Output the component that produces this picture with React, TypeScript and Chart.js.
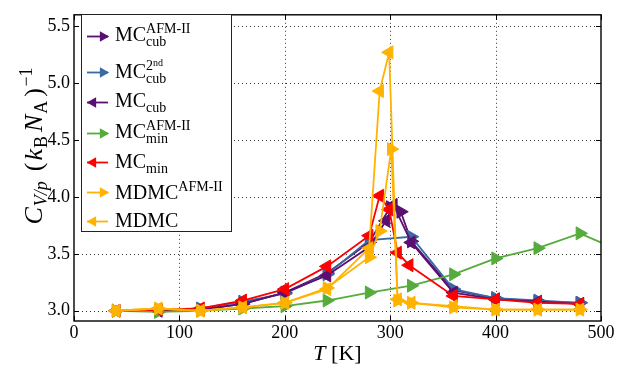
import { useEffect, useRef } from 'react';
import { Chart, registerables } from 'chart.js';

Chart.register(...registerables);

// ---------- data ----------
const T_CUB_AFM = [40, 80, 120, 160, 200, 240, 280, 300, 310, 320, 360, 400, 440, 480];
const C_CUB_AFM = [3.0, 3.0, 3.01, 3.06, 3.16, 3.33, 3.6, 3.91, 3.87, 3.61, 3.18, 3.11, 3.08, 3.07];

const T_CUB_2ND = [40, 80, 120, 160, 200, 240, 280, 320, 360, 400, 440, 480];
const C_CUB_2ND = [3.0, 3.0, 3.02, 3.08, 3.15, 3.32, 3.62, 3.65, 3.19, 3.11, 3.09, 3.07];

const T_CUB = [40, 80, 120, 160, 200, 240, 280, 296, 303, 320, 360, 400, 440, 480];
const C_CUB = [3.0, 3.0, 3.01, 3.06, 3.16, 3.31, 3.56, 3.79, 3.93, 3.6, 3.16, 3.1, 3.08, 3.06];

const T_MIN_AFM = [40, 80, 120, 160, 200, 240, 280, 320, 360, 400, 440, 480, 520];
const C_MIN_AFM = [3.0, 2.99, 3.0, 3.02, 3.04, 3.09, 3.16, 3.22, 3.32, 3.46, 3.55, 3.68, 3.52];

const T_MIN = [40, 80, 120, 160, 200, 240, 280, 290, 299, 307, 318, 360, 400, 440, 480];
const C_MIN = [3.0, 3.01, 3.02, 3.09, 3.19, 3.39, 3.66, 4.01, 3.89, 3.51, 3.4, 3.13, 3.1, 3.07, 3.06];

const T_MDMC_AFM = [40, 80, 120, 160, 200, 240, 280, 290, 301, 307, 320, 360, 400, 440, 480];
const C_MDMC_AFM = [3.0, 3.02, 3.0, 3.03, 3.07, 3.2, 3.47, 3.7, 4.42, 3.09, 3.07, 3.03, 3.01, 3.01, 3.01];

const T_MDMC = [40, 80, 120, 160, 200, 240, 280, 290, 299, 307, 320, 360, 400, 440, 480];
const C_MDMC = [3.0, 3.02, 3.0, 3.03, 3.07, 3.19, 3.55, 4.93, 5.27, 3.1, 3.07, 3.04, 3.01, 3.01, 3.01];

const X_TICKS = [0, 100, 200, 300, 400, 500];
const Y_TICKS = [3.0, 3.5, 4.0, 4.5, 5.0, 5.5];

// ---------- styling ----------
const SERIF = '"Liberation Serif", "DejaVu Serif", serif';
const PURPLE = '#5b0f72';
const BLUE = '#3a6aa3';
const GREEN = '#55ab3c';
const RED = '#ff0000';
const ORANGE = '#ffb300';

type Item = { t: string; size: number; dy?: number; it?: boolean; gap?: number; mode?: 'next' | 'chain' | 'stack' };
const M = 20;
const S = 14;
const SS = 10;

const SERIES: { T: number[]; C: number[]; color: string; dir: 1 | -1; label: Item[] }[] = [
  { T: T_CUB_AFM, C: C_CUB_AFM, color: PURPLE, dir: 1, label: [
    { t: 'MC', size: M }, { t: 'AFM-II', size: S, dy: -8 }, { t: 'cub', size: S, dy: 4.5, mode: 'stack' }] },
  { T: T_CUB_2ND, C: C_CUB_2ND, color: BLUE, dir: 1, label: [
    { t: 'MC', size: M }, { t: '2', size: S, dy: -8 }, { t: 'nd', size: SS, dy: -12, mode: 'chain' },
    { t: 'cub', size: S, dy: 4.5, mode: 'stack' }] },
  { T: T_CUB, C: C_CUB, color: PURPLE, dir: -1, label: [
    { t: 'MC', size: M }, { t: 'cub', size: S, dy: 4.5 }] },
  { T: T_MIN_AFM, C: C_MIN_AFM, color: GREEN, dir: 1, label: [
    { t: 'MC', size: M }, { t: 'AFM-II', size: S, dy: -8 }, { t: 'min', size: S, dy: 4.5, mode: 'stack' }] },
  { T: T_MIN, C: C_MIN, color: RED, dir: -1, label: [
    { t: 'MC', size: M }, { t: 'min', size: S, dy: 4.5 }] },
  { T: T_MDMC_AFM, C: C_MDMC_AFM, color: ORANGE, dir: 1, label: [
    { t: 'MDMC', size: M }, { t: 'AFM-II', size: S, dy: -8 }] },
  { T: T_MDMC, C: C_MDMC, color: ORANGE, dir: -1, label: [
    { t: 'MDMC', size: M }] },
];

const LEGEND_BOX = { x: 81, y: 14, w: 150, h: 217 };
const LEGEND_MARK_Y = [36, 72, 102, 133, 162, 192, 221];
const LEGEND_TEXT_Y = [41, 78, 107, 138, 168, 199, 227];

const YT = 26;
const YS = 18;
const YG = 4;
const Y_TITLE: Item[] = [
  { t: 'C', size: YT, it: true, gap: 1 }, { t: 'V/p', size: YS, dy: 5, it: true, gap: YG + 6 },
  { t: '(', size: YT, gap: 2 }, { t: 'k', size: YT, it: true, gap: 1 }, { t: 'B', size: YS, dy: 5, gap: YG },
  { t: 'N', size: YT, it: true, gap: 1 }, { t: 'A', size: YS, dy: 5, gap: YG }, { t: ')', size: YT, gap: 1.5 },
  { t: '−1', size: YS, dy: -10 },
];
const X_TITLE: Item[] = [{ t: 'T', size: 22, it: true }, { t: ' [K]', size: 22 }];

function font(i: Item) {
  return `${i.it ? 'italic ' : ''}${i.size}px ${SERIF}`;
}

function layoutRich(ctx: CanvasRenderingContext2D, items: Item[]) {
  let colStart = 0, prevEnd = 0, maxEnd = 0;
  const xs: number[] = [];
  for (const it of items) {
    ctx.font = font(it);
    const w = ctx.measureText(it.t).width + (it.gap || 0);
    let ix: number;
    if (it.mode === 'stack') ix = colStart;
    else if (it.mode === 'chain') ix = prevEnd;
    else { ix = maxEnd; colStart = ix; }
    xs.push(ix);
    prevEnd = ix + w;
    maxEnd = Math.max(maxEnd, prevEnd);
  }
  return { xs, width: maxEnd };
}

function drawRich(ctx: CanvasRenderingContext2D, items: Item[], x: number, y: number, align: 'left' | 'center') {
  const { xs, width } = layoutRich(ctx, items);
  const x0 = align === 'center' ? x - width / 2 : x;
  ctx.textAlign = 'left';
  ctx.textBaseline = 'alphabetic';
  items.forEach((it, k) => {
    ctx.font = font(it);
    ctx.fillText(it.t, x0 + xs[k], y + (it.dy || 0));
  });
}

function tri(ctx: CanvasRenderingContext2D, cx: number, cy: number, r: number, dir: number) {
  ctx.beginPath();
  ctx.moveTo(cx + dir * r, cy);
  ctx.lineTo(cx - dir * r / 2, cy - 0.866 * r);
  ctx.lineTo(cx - dir * r / 2, cy + 0.866 * r);
  ctx.closePath();
  ctx.fill();
}

const decor = {
  id: 'decor',
  beforeDatasetsDraw(chart: any) {
    const { ctx, chartArea: a, scales } = chart;
    const x = scales.x, y = scales.y;
    ctx.save();
    ctx.strokeStyle = 'rgba(0,0,0,0.8)';
    ctx.lineWidth = 1;
    ctx.setLineDash([1, 3]);
    for (const t of X_TICKS) {
      const px = Math.round(x.getPixelForValue(t)) + 0.5;
      if (px <= a.left + 1 || px >= a.right - 1) continue;
      ctx.beginPath(); ctx.moveTo(px, a.top); ctx.lineTo(px, a.bottom); ctx.stroke();
    }
    for (const v of Y_TICKS) {
      const py = Math.round(y.getPixelForValue(v)) + 0.5;
      ctx.beginPath(); ctx.moveTo(a.left, py); ctx.lineTo(a.right, py); ctx.stroke();
    }
    ctx.restore();
  },
  afterDatasetsDraw(chart: any) {
    const { ctx, chartArea: a, scales } = chart;
    const x = scales.x, y = scales.y;
    ctx.save();
    // frame
    ctx.strokeStyle = '#000';
    ctx.lineWidth = 1.4;
    ctx.strokeRect(a.left, a.top, a.right - a.left, a.bottom - a.top);
    // inward ticks
    ctx.lineWidth = 1;
    const TL = 5;
    for (const t of X_TICKS) {
      const px = Math.round(x.getPixelForValue(t)) + 0.5;
      ctx.beginPath();
      ctx.moveTo(px, a.bottom); ctx.lineTo(px, a.bottom - TL);
      ctx.moveTo(px, a.top); ctx.lineTo(px, a.top + TL);
      ctx.stroke();
    }
    for (const v of Y_TICKS) {
      const py = Math.round(y.getPixelForValue(v)) + 0.5;
      ctx.beginPath();
      ctx.moveTo(a.left, py); ctx.lineTo(a.left + TL, py);
      ctx.moveTo(a.right, py); ctx.lineTo(a.right - TL, py);
      ctx.stroke();
    }
    // legend
    const B = LEGEND_BOX;
    ctx.fillStyle = '#fff';
    ctx.fillRect(B.x, B.y, B.w, B.h);
    ctx.strokeStyle = '#222';
    ctx.lineWidth = 1;
    ctx.strokeRect(B.x + 0.5, B.y + 0.5, B.w, B.h);
    SERIES.forEach((s, k) => {
      const my = LEGEND_MARK_Y[k] + 0.5;
      ctx.strokeStyle = s.color;
      ctx.fillStyle = s.color;
      ctx.lineWidth = 1.8;
      ctx.beginPath(); ctx.moveTo(87, my); ctx.lineTo(108, my); ctx.stroke();
      if (s.dir > 0) tri(ctx, 103, my, 6.2, 1);
      else tri(ctx, 93, my, 6.2, -1);
      ctx.fillStyle = '#000';
      drawRich(ctx, s.label, 115, LEGEND_TEXT_Y[k], 'left');
    });
    // axis titles
    ctx.fillStyle = '#000';
    drawRich(ctx, X_TITLE, (a.left + a.right) / 2, 360, 'center');
    ctx.save();
    ctx.translate(42, 146);
    ctx.rotate(-Math.PI / 2);
    drawRich(ctx, Y_TITLE, 0, 0, 'center');
    ctx.restore();
    ctx.restore();
  },
};

export default function App() {
  const ref = useRef<HTMLCanvasElement>(null);
  useEffect(() => {
    const datasets = SERIES.map((s, i) => ({
      label: s.label.map((p) => p.t).join(''),
      data: s.T.map((t, k) => ({ x: t, y: s.C[k] })),
      borderColor: s.color,
      backgroundColor: s.color,
      borderWidth: 1.8,
      pointStyle: 'triangle',
      pointRotation: s.dir > 0 ? 90 : -90,
      pointRadius: 7.5,
      pointHoverRadius: 7.5,
      pointBackgroundColor: s.color,
      pointBorderColor: s.color,
      pointBorderWidth: 1,
      tension: 0,
      fill: false,
      clip: 0,
      order: SERIES.length - i,
    }));
    const chart = new Chart(ref.current as HTMLCanvasElement, {
      type: 'line',
      data: { datasets } as any,
      plugins: [decor],
      options: {
        animation: false,
        responsive: false,
        devicePixelRatio: 1,
        events: [],
        layout: { padding: { top: 7, right: 29, left: 0, bottom: 0 } },
        plugins: { legend: { display: false }, tooltip: { enabled: false }, title: { display: false } },
        scales: {
          x: {
            type: 'linear',
            min: 0,
            max: 500,
            grid: { display: false, drawTicks: false },
            border: { display: false },
            afterFit: (s: any) => { s.height = 45; },
            afterBuildTicks: (s: any) => { s.ticks = X_TICKS.map((v) => ({ value: v })); },
            ticks: {
              autoSkip: false,
              maxRotation: 0,
              padding: 1,
              color: '#000',
              font: { family: SERIF, size: 18 },
              callback: (v: any) => String(v),
            },
          },
          y: {
            type: 'linear',
            min: 2.91,
            max: 5.6,
            grid: { display: false, drawTicks: false },
            border: { display: false },
            afterFit: (s: any) => { s.width = 74; },
            afterBuildTicks: (s: any) => { s.ticks = Y_TICKS.map((v) => ({ value: v })); },
            ticks: {
              autoSkip: false,
              padding: 4,
              color: '#000',
              font: { family: SERIF, size: 18 },
              callback: (v: any) => Number(v).toFixed(1),
            },
          },
        },
      } as any,
    });
    return () => chart.destroy();
  }, []);
  return (
    <div style={{ position: 'fixed', left: 0, top: 0, width: 630, height: 366, background: '#fff' }}>
      <canvas ref={ref} width={630} height={366} style={{ width: 630, height: 366, display: 'block' }} />
    </div>
  );
}
